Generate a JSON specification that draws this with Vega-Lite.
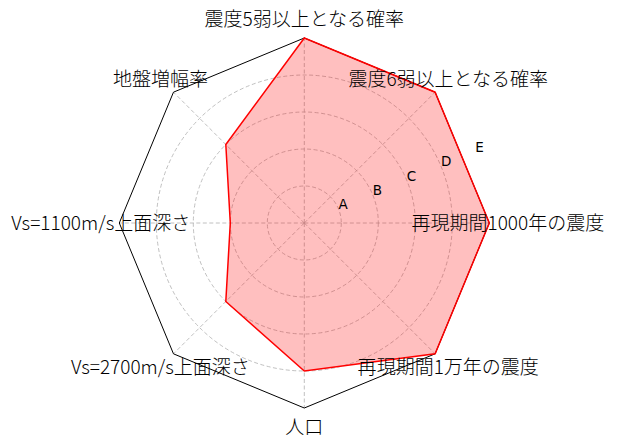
{
  "$schema": "https://vega.github.io/schema/vega-lite/v6.json",
  "width": 618,
  "height": 446,
  "autosize": {"type": "fit", "contains": "padding"},
  "padding": 0,
  "background": "white",
  "config": {"view": {"stroke": null}},
  "datasets": {
    "axes": [
      {"name": "震度5弱以上となる確率", "idx": 0, "value": 5},
      {"name": "震度6弱以上となる確率", "idx": 1, "value": 5},
      {"name": "再現期間1000年の震度", "idx": 2, "value": 5},
      {"name": "再現期間1万年の震度", "idx": 3, "value": 5},
      {"name": "人口", "idx": 4, "value": 4},
      {"name": "Vs=2700m/s上面深さ", "idx": 5, "value": 3},
      {"name": "Vs=1100m/s上面深さ", "idx": 6, "value": 2},
      {"name": "地盤増幅率", "idx": 7, "value": 3}
    ],
    "ticks": [
      {"label": "A", "r": 1},
      {"label": "B", "r": 2},
      {"label": "C", "r": 3},
      {"label": "D", "r": 4},
      {"label": "E", "r": 5}
    ]
  },
  "layer": [
    {
      "data": {"name": "ticks"},
      "transform": [
        {"filter": "datum.r < 5"},
        {"calculate": "0", "as": "cx"}
      ],
      "mark": {"type": "point", "shape": "circle", "filled": false, "stroke": "#b0b0b0", "strokeWidth": 0.8, "strokeDash": [4, 2.5], "opacity": 1},
      "encoding": {
        "x": {"field": "cx", "type": "quantitative", "scale": {"domain": [-8.224, 8.478], "nice": false, "zero": false}, "axis": null},
        "y": {"field": "cx", "type": "quantitative", "scale": {"domain": [-6.027, 6.027], "nice": false, "zero": false}, "axis": null},
        "size": {"field": "r", "type": "quantitative", "scale": {"type": "pow", "exponent": 2, "domain": [0, 5], "range": [0, 136900]}, "legend": null}
      }
    },
    {
      "data": {"name": "axes"},
      "transform": [
        {"calculate": "5 * sin(datum.idx * PI / 4)", "as": "fx"},
        {"calculate": "5 * cos(datum.idx * PI / 4)", "as": "fy"},
        {"calculate": "0", "as": "cx"}
      ],
      "mark": {"type": "rule", "color": "#b0b0b0", "strokeWidth": 0.8, "strokeDash": [4, 2.5]},
      "encoding": {
        "x": {"field": "cx", "type": "quantitative", "scale": {"domain": [-8.224, 8.478], "nice": false, "zero": false}, "axis": null},
        "y": {"field": "cx", "type": "quantitative", "scale": {"domain": [-6.027, 6.027], "nice": false, "zero": false}, "axis": null},
        "x2": {"field": "fx"},
        "y2": {"field": "fy"}
      }
    },
    {
      "data": {"name": "axes"},
      "transform": [
        {"calculate": "datum.value * sin(datum.idx * PI / 4)", "as": "px"},
        {"calculate": "datum.value * cos(datum.idx * PI / 4)", "as": "py"}
      ],
      "mark": {"type": "line", "interpolate": "linear-closed", "fill": "red", "fillOpacity": 0.25, "strokeOpacity": 0},
      "encoding": {
        "x": {"field": "px", "type": "quantitative", "scale": {"domain": [-8.224, 8.478], "nice": false, "zero": false}, "axis": null},
        "y": {"field": "py", "type": "quantitative", "scale": {"domain": [-6.027, 6.027], "nice": false, "zero": false}, "axis": null},
        "order": {"field": "idx", "type": "quantitative"}
      }
    },
    {
      "data": {"name": "axes"},
      "transform": [
        {"calculate": "5 * sin(datum.idx * PI / 4)", "as": "fx"},
        {"calculate": "5 * cos(datum.idx * PI / 4)", "as": "fy"}
      ],
      "mark": {"type": "line", "interpolate": "linear-closed", "color": "black", "strokeWidth": 1},
      "encoding": {
        "x": {"field": "fx", "type": "quantitative", "scale": {"domain": [-8.224, 8.478], "nice": false, "zero": false}, "axis": null},
        "y": {"field": "fy", "type": "quantitative", "scale": {"domain": [-6.027, 6.027], "nice": false, "zero": false}, "axis": null},
        "order": {"field": "idx", "type": "quantitative"}
      }
    },
    {
      "data": {"name": "axes"},
      "transform": [
        {"calculate": "datum.value * sin(datum.idx * PI / 4)", "as": "px"},
        {"calculate": "datum.value * cos(datum.idx * PI / 4)", "as": "py"}
      ],
      "mark": {"type": "line", "interpolate": "linear-closed", "color": "red", "strokeWidth": 1.5},
      "encoding": {
        "x": {"field": "px", "type": "quantitative", "scale": {"domain": [-8.224, 8.478], "nice": false, "zero": false}, "axis": null},
        "y": {"field": "py", "type": "quantitative", "scale": {"domain": [-6.027, 6.027], "nice": false, "zero": false}, "axis": null},
        "order": {"field": "idx", "type": "quantitative"}
      }
    },
    {
      "data": {"name": "ticks"},
      "transform": [
        {"calculate": "datum.r * sin(3 * PI / 8)", "as": "tx"},
        {"calculate": "datum.r * cos(3 * PI / 8)", "as": "ty"}
      ],
      "mark": {"type": "text", "align": "left", "baseline": "alphabetic", "font": "DejaVu Sans", "fontSize": 13.5, "color": "black"},
      "encoding": {
        "x": {"field": "tx", "type": "quantitative", "scale": {"domain": [-8.224, 8.478], "nice": false, "zero": false}, "axis": null},
        "y": {"field": "ty", "type": "quantitative", "scale": {"domain": [-6.027, 6.027], "nice": false, "zero": false}, "axis": null},
        "text": {"field": "label", "type": "nominal"}
      }
    },
    {
      "data": {"name": "axes"},
      "transform": [
        {"calculate": "5.5 * sin(datum.idx * PI / 4)", "as": "lx"},
        {"calculate": "5.5 * cos(datum.idx * PI / 4)", "as": "ly"}
      ],
      "mark": {"type": "text", "align": "center", "baseline": "middle", "dy": 1, "font": "Noto Sans CJK JP", "fontWeight": 300, "fontSize": 19, "color": "black"},
      "encoding": {
        "x": {"field": "lx", "type": "quantitative", "scale": {"domain": [-8.224, 8.478], "nice": false, "zero": false}, "axis": null},
        "y": {"field": "ly", "type": "quantitative", "scale": {"domain": [-6.027, 6.027], "nice": false, "zero": false}, "axis": null},
        "text": {"field": "name", "type": "nominal"}
      }
    }
  ]
}
